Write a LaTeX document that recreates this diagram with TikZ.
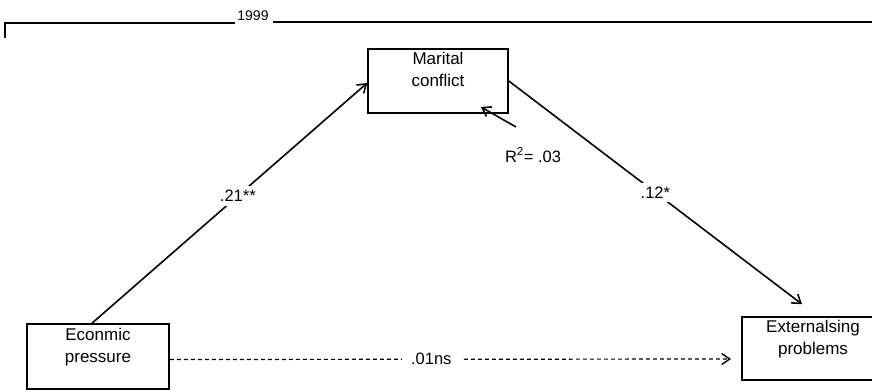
\documentclass[tikz,border=0pt]{standalone}
\usepackage{fontspec}
\setmainfont{Liberation Sans}
\usetikzlibrary{arrows.meta}
\begin{document}
\begin{tikzpicture}[x=1pt,y=-1pt,
  boxnode/.style={draw, line width=1.6pt, inner sep=0pt},
  boxtext/.style={align=center, inner sep=0pt, font=\fontsize{17}{22}\selectfont},
  lbl/.style={fill=white, inner sep=4pt, font=\fontsize{16.5}{19}\selectfont},
  path/.style={line width=1.6pt, -{Straight Barb[length=8pt,width=11pt,line width=1.6pt]}},
  nspath/.style={line width=1.2pt, dash pattern=on 4pt off 3pt,
    -{Straight Barb[length=8pt,width=11pt,line width=1.4pt,sep]}}]
\useasboundingbox (0,0) rectangle (872,391);

% year bracket
\node[font=\fontsize{14}{16}\selectfont, inner sep=0pt] (yr) at (253,16) {1999};
\coordinate (bl) at (5,38);
\coordinate (bt) at (5,23);
\coordinate (br) at (874,22);
\draw[line width=1.5pt] (bl) -- (bt) -- ([xshift=-18pt,yshift=-7pt]yr.center);
\draw[line width=1.5pt] ([xshift=20pt,yshift=-6pt]yr.center) -- (br);

% variables
\node[boxnode, minimum width=140pt, minimum height=64pt] (mc) at (438,81) {};
\node[boxtext, anchor=north] (mct) at ([yshift=-4pt]mc.north) {Marital\\conflict};

\node[boxnode, minimum width=142pt, minimum height=65pt] (ep) at (98,356.5) {};
\node[boxtext, anchor=north] (ept) at ([yshift=-5pt]ep.north) {Econmic\\pressure};

\node[boxnode, minimum width=142pt, minimum height=63pt] (ex) at (813,348.5) {};
\node[boxtext, anchor=north] (ext) at ([yshift=-4pt]ex.north) {Externalsing\\problems};

% paths
\draw[path] ([xshift=-6pt]ep.north) -- node[lbl, pos=0.53] (a) {.21**} ([yshift=-2pt]mc.west);
\draw[path] (mc.east) -- node[lbl, pos=0.5] (b) {.12*} ([xshift=-11pt,yshift=12pt]ex.north);
\draw[nspath] ([yshift=-3pt]ep.east) -- node[lbl, pos=0.465, inner xsep=9pt] (c) {.01ns} ([xshift=-9pt,yshift=-10.5pt]ex.west);

% explained variance
\node[font=\fontsize{16.5}{19}\selectfont, inner sep=0pt] (r2) at (533,155) {R\textsuperscript{2}= .03};
\coordinate (r2s) at (516,127);
\draw[path] (r2s) -- ([xshift=43pt,yshift=-26pt]mc.center);
\end{tikzpicture}
\end{document}
